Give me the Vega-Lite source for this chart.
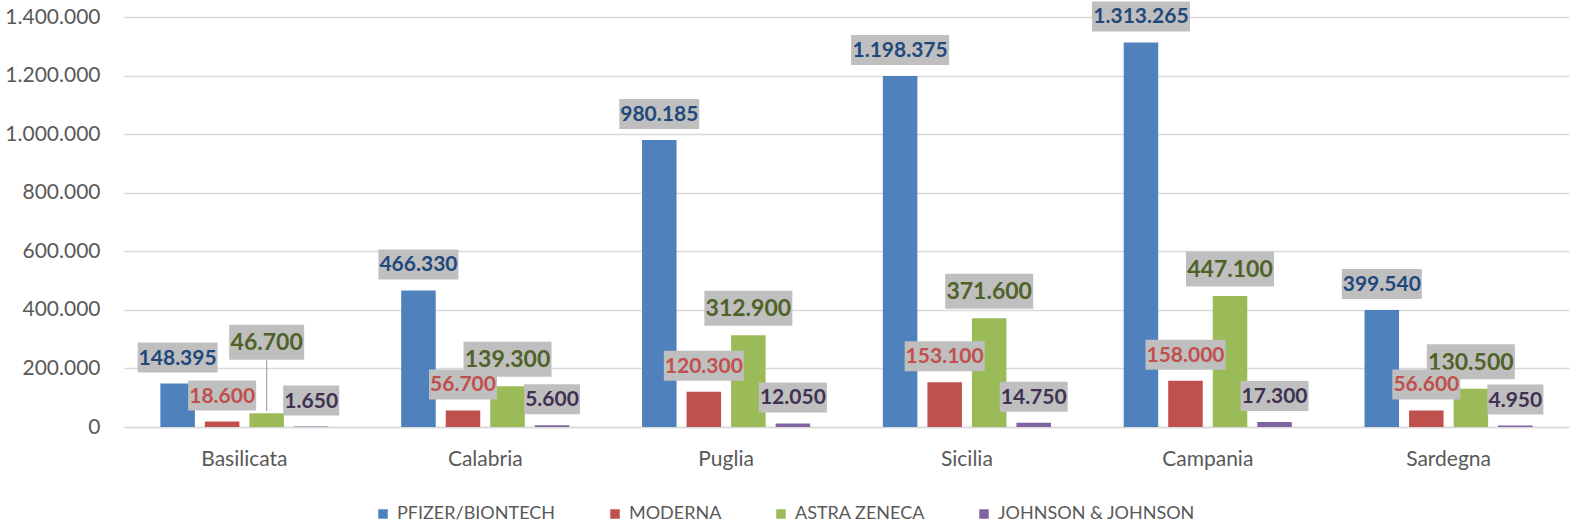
{
  "$schema": "https://vega.github.io/schema/vega-lite/v6.json",
  "width": 1445,
  "height": 410,
  "autosize": {"type": "none"},
  "padding": {"left": 124, "top": 17, "right": 6, "bottom": 99},
  "background": "white",
  "config": {
    "view": {"stroke": null},
    "font": "Lato",
    "locale": {"number": {"decimal": ",", "thousands": ".", "grouping": [3], "currency": ["€", ""]}},
    "axis": {"labelFont": "Lato", "labelColor": "#595959", "title": null, "ticks": false}
  },
  "data": {
    "values": [
      {"regione": "Basilicata", "vaccino": "PFIZER/BIONTECH", "value": 148395},
      {"regione": "Basilicata", "vaccino": "MODERNA", "value": 18600},
      {"regione": "Basilicata", "vaccino": "ASTRA ZENECA", "value": 46700},
      {"regione": "Basilicata", "vaccino": "JOHNSON & JOHNSON", "value": 1650},
      {"regione": "Calabria", "vaccino": "PFIZER/BIONTECH", "value": 466330},
      {"regione": "Calabria", "vaccino": "MODERNA", "value": 56700},
      {"regione": "Calabria", "vaccino": "ASTRA ZENECA", "value": 139300},
      {"regione": "Calabria", "vaccino": "JOHNSON & JOHNSON", "value": 5600},
      {"regione": "Puglia", "vaccino": "PFIZER/BIONTECH", "value": 980185},
      {"regione": "Puglia", "vaccino": "MODERNA", "value": 120300},
      {"regione": "Puglia", "vaccino": "ASTRA ZENECA", "value": 312900},
      {"regione": "Puglia", "vaccino": "JOHNSON & JOHNSON", "value": 12050},
      {"regione": "Sicilia", "vaccino": "PFIZER/BIONTECH", "value": 1198375},
      {"regione": "Sicilia", "vaccino": "MODERNA", "value": 153100},
      {"regione": "Sicilia", "vaccino": "ASTRA ZENECA", "value": 371600},
      {"regione": "Sicilia", "vaccino": "JOHNSON & JOHNSON", "value": 14750},
      {"regione": "Campania", "vaccino": "PFIZER/BIONTECH", "value": 1313265},
      {"regione": "Campania", "vaccino": "MODERNA", "value": 158000},
      {"regione": "Campania", "vaccino": "ASTRA ZENECA", "value": 447100},
      {"regione": "Campania", "vaccino": "JOHNSON & JOHNSON", "value": 17300},
      {"regione": "Sardegna", "vaccino": "PFIZER/BIONTECH", "value": 399540},
      {"regione": "Sardegna", "vaccino": "MODERNA", "value": 56600},
      {"regione": "Sardegna", "vaccino": "ASTRA ZENECA", "value": 130500},
      {"regione": "Sardegna", "vaccino": "JOHNSON & JOHNSON", "value": 4950}
    ]
  },
  "encoding": {
    "x": {
      "field": "regione", "type": "nominal", "sort": null,
      "scale": {"paddingInner": 0.302, "paddingOuter": 0.151},
      "axis": {"labelAngle": 0, "labelFontSize": 21, "labelPadding": 21, "domain": true, "domainColor": "#d9d9d9", "domainWidth": 1.5, "grid": false}
    },
    "xOffset": {
      "field": "vaccino", "type": "nominal", "sort": ["PFIZER/BIONTECH", "MODERNA", "ASTRA ZENECA", "JOHNSON & JOHNSON"],
      "scale": {"paddingInner": 0.225, "paddingOuter": 0}
    },
    "y": {
      "field": "value", "type": "quantitative",
      "scale": {"domain": [0, 1400000], "nice": false},
      "axis": {"values": [0, 200000, 400000, 600000, 800000, 1000000, 1200000, 1400000], "format": ",d", "labelFontSize": 21, "labelPadding": 24, "domain": false, "grid": true, "gridColor": "#d9d9d9", "gridWidth": 1.5}
    }
  },
  "layer": [
    {
      "mark": {"type": "bar"},
      "encoding": {
        "color": {
          "field": "vaccino", "type": "nominal",
          "scale": {"domain": ["PFIZER/BIONTECH", "MODERNA", "ASTRA ZENECA", "JOHNSON & JOHNSON"], "range": ["#4f81bd", "#c0504d", "#9bbb59", "#8064a2"]},
          "legend": {
            "title": null, "orient": "none", "direction": "horizontal", "legendX": 250, "legendY": 488,
            "symbolType": "square", "symbolSize": 90, "symbolStrokeWidth": 0, "labelFont": "Lato", "labelFontSize": 18,
            "labelColor": "#595959", "columnPadding": 50, "labelOffset": 5, "padding": 0, "labelLimit": 400
          }
        }
      }
    },
    {
      "transform": [{"filter": "datum.regione == 'Basilicata' && datum.vaccino == 'ASTRA ZENECA'"}],
      "mark": {"type": "rule", "color": "#a6a6a6", "strokeWidth": 1.2, "yOffset": -2, "y2Offset": -53},
      "encoding": {"y2": {"field": "value"}}
    },
    {
      "transform": [{"filter": "datum.vaccino == 'ASTRA ZENECA' && datum.regione != 'Basilicata'"}],
      "mark": {"type": "bar", "color": "#bfbfbf", "yOffset": -44.5, "y2Offset": -9.5},
      "encoding": {
        "y2": {"field": "value"},
        "size": {"condition": {"test": "datum.value >= 100000", "value": 88}, "value": 75}
      }
    },
    {
      "transform": [{"filter": "datum.vaccino == 'ASTRA ZENECA' && datum.regione == 'Basilicata'"}],
      "mark": {"type": "bar", "color": "#bfbfbf", "yOffset": -88.5, "y2Offset": -53.5, "xOffset": 5},
      "encoding": {
        "y2": {"field": "value"},
        "size": {"value": 75}
      }
    },
    {
      "transform": [{"filter": "datum.vaccino == 'ASTRA ZENECA' && datum.regione != 'Basilicata'"}],
      "mark": {"type": "text", "font": "Lato", "fontWeight": "bold", "fontSize": 23, "color": "#4f6228", "baseline": "middle", "yOffset": -26},
      "encoding": {"text": {"field": "value", "type": "quantitative", "format": ",d"}}
    },
    {
      "transform": [{"filter": "datum.vaccino == 'ASTRA ZENECA' && datum.regione == 'Basilicata'"}],
      "mark": {"type": "text", "font": "Lato", "fontWeight": "bold", "fontSize": 23, "color": "#4f6228", "baseline": "middle", "yOffset": -70, "xOffset": 5},
      "encoding": {"text": {"field": "value", "type": "quantitative", "format": ",d"}}
    },
    {
      "transform": [{"filter": "datum.vaccino != 'ASTRA ZENECA'"}],
      "mark": {"type": "bar", "color": "#bfbfbf", "yOffset": -41, "y2Offset": -11},
      "encoding": {
        "y2": {"field": "value"},
        "size": {"condition": [{"test": "datum.value >= 1000000", "value": 98}, {"test": "datum.value >= 100000", "value": 80}, {"test": "datum.value >= 10000", "value": 68}], "value": 56}
      }
    },
    {
      "transform": [{"filter": "datum.vaccino != 'ASTRA ZENECA'"}],
      "mark": {"type": "text", "font": "Lato", "fontWeight": "bold", "fontSize": 21, "baseline": "middle", "yOffset": -25},
      "encoding": {
        "text": {"field": "value", "type": "quantitative", "format": ",d"},
        "color": {"condition": [{"test": "datum.vaccino == 'PFIZER/BIONTECH'", "value": "#1f497d"}, {"test": "datum.vaccino == 'MODERNA'", "value": "#c0504d"}], "value": "#3f3151"}
      }
    }
  ]
}
